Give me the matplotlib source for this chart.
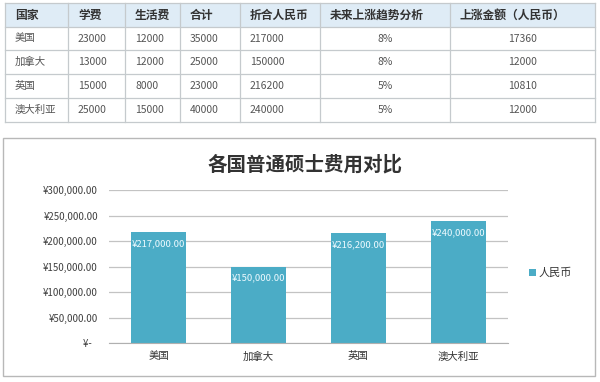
import matplotlib.pyplot as plt
from matplotlib.patches import Rectangle
from matplotlib.ticker import FuncFormatter

plt.rcParams['font.family'] = ['Noto Sans CJK SC', 'DejaVu Sans']

headers = ['国家', '学费', '生活费', '合计', '折合人民币', '未来上涨趋势分析', '上涨金额（人民币）']
countries = ['美国', '加拿大', '英国', '澳大利亚']
tuition = [23000, 13000, 15000, 25000]
living = [12000, 12000, 8000, 15000]
total = [35000, 25000, 23000, 40000]
rmb = [217000, 150000, 216200, 240000]
growth = ['8%', '8%', '5%', '5%']
increase = [17360, 12000, 10810, 12000]
yticks = [0, 50000, 100000, 150000, 200000, 250000, 300000]

bar_color = '#4bacc6'

fig = plt.figure(figsize=(6, 3.82), dpi=100)

# background layer in pixel coords: table + chart frame
bg = fig.add_axes([0, 0, 1, 1])
bg.set_xlim(0, 600)
bg.set_ylim(382, 0)
bg.axis('off')

col_x = [5, 68, 125, 180, 240, 320, 450, 595]
row_y = [3, 27, 50, 74, 98, 122]
line_c = '#c5cacd'

bg.add_patch(Rectangle((col_x[0], row_y[0]), col_x[-1] - col_x[0], row_y[1] - row_y[0],
                       facecolor='#dfecf6', edgecolor='none'))
for y in row_y:
    bg.plot([col_x[0], col_x[-1]], [y, y], color=line_c, lw=0.9)
for x in col_x:
    bg.plot([x, x], [row_y[0], row_y[-1]], color=line_c, lw=0.9)

for j, h in enumerate(headers):
    bg.text(col_x[j] + 10, (row_y[0] + row_y[1]) / 2, h, fontsize=8.5, fontweight='bold',
            color='#333333', ha='left', va='center')

rows = list(zip(countries, tuition, living, total, rmb, growth, increase))
for i, r in enumerate(rows):
    yc = (row_y[i + 1] + row_y[i + 2]) / 2
    for j, v in enumerate(r):
        if j >= 5:
            bg.text((col_x[j] + col_x[j + 1]) / 2, yc, str(v), fontsize=7.5,
                    color='#555555', ha='center', va='center')
        else:
            bg.text(col_x[j] + 10, yc, str(v), fontsize=7.5,
                    color='#555555', ha='left', va='center')

bg.add_patch(Rectangle((3, 138), 592, 238, fill=False, edgecolor='#b8b8b8', lw=1))
bg.text(305, 165, '各国普通硕士费用对比', fontsize=14, fontweight='bold',
        color='#333333', ha='center', va='center')

# bar chart
ax = fig.add_axes([109 / 600, (382 - 343) / 382, 399 / 600, 153 / 382])
x = range(len(countries))
bars = ax.bar(x, rmb, width=0.55, color=bar_color, label='人民币', zorder=2)
ax.set_xlim(-0.5, len(countries) - 0.5)
ax.set_ylim(0, 300000)
ax.set_yticks(yticks)
ax.yaxis.set_major_formatter(FuncFormatter(lambda v, p: '¥-   ' if v == 0 else f'¥{v:,.2f}'))
ax.set_xticks(list(x))
ax.set_xticklabels(countries)
ax.grid(axis='y', color='#c3c3c3', lw=0.9, zorder=0)
ax.set_axisbelow(True)
for s in ['top', 'left', 'right']:
    ax.spines[s].set_visible(False)
ax.spines['bottom'].set_color('#b0b0b0')
ax.tick_params(axis='y', length=0, pad=8, labelsize=7, labelcolor='#404040')
ax.tick_params(axis='x', length=0, pad=6, labelsize=7.5, labelcolor='#333333')

for i, v in enumerate(rmb):
    ax.annotate(f'¥{v:,.2f}', (i, v), xytext=(0, -8.5), textcoords='offset points',
                ha='center', va='center', fontsize=6.8, color='#eefaff')

ax.legend(loc='center left', bbox_to_anchor=(519 / 600, 1 - 273 / 382),
          bbox_transform=fig.transFigure, frameon=False, handlelength=0.6,
          handleheight=0.6, handletextpad=0.3, fontsize=8,
          labelcolor='#333333')

fig.savefig('out.png', dpi=100)
